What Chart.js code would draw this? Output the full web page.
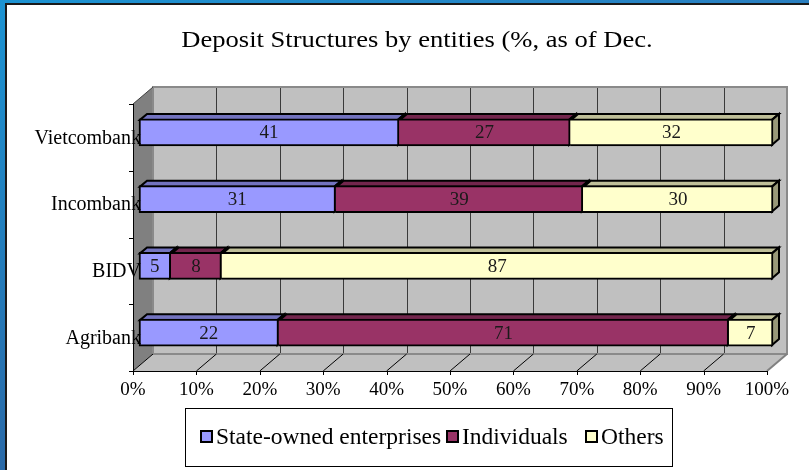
<!DOCTYPE html>
<html>
<head>
<meta charset="utf-8">
<script src="https://cdn.jsdelivr.net/npm/chart.js@4"></script>
<style>
  html, body { margin: 0; padding: 0; background: #ffffff; }
  #wrap { width: 809px; height: 470px; }
  canvas { display: block; }
</style>
</head>
<body>
<div id="wrap"><canvas id="c" width="809" height="470"></canvas></div>
<script>
// ---- data ----
const categories = ['Vietcombank', 'Incombank', 'BIDV', 'Agribank'];
const stateOwned = [41, 31, 5, 22];
const individuals = [27, 39, 8, 71];
const others = [32, 30, 87, 7];
const seriesNames = ['State-owned enterprises', 'Individuals', 'Others'];
const xTickValues = [0, 10, 20, 30, 40, 50, 60, 70, 80, 90, 100];
const xTickLabels = ['0%', '10%', '20%', '30%', '40%', '50%', '60%', '70%', '80%', '90%', '100%'];
const titleText = 'Deposit Structures by entities (%, as of Dec.';

// ---- style ----
const frontColors = ['#9999FF', '#993366', '#FFFFCC'];
const topColors = ['#7373BF', '#73264D', '#BFBF99'];
const sideColors = ['#5C5C99', '#5C1F3D', '#999979'];
const SERIF = '"Liberation Serif", "DejaVu Serif", "Times New Roman", serif';

const WALL_DX = 20, WALL_DY = -17;   // depth of the box
const BAR_DX = 6, BAR_DY = -5;       // bar front offset from front plane
const BAR_TX = 7, BAR_TY = -6;       // bar depth

const threeD = {
  id: 'threeD',
  beforeDraw(chart) {
    const ctx = chart.ctx;
    const xs = chart.scales.x, ys = chart.scales.y;
    const W = chart.width, H = chart.height;
    const L = xs.getPixelForValue(0), R = xs.getPixelForValue(100);
    const T = ys.top, B = ys.bottom;
    ctx.save();
    // frame
    const g = ctx.createLinearGradient(0, 0, 0, H);
    g.addColorStop(0, '#1c93d2');
    g.addColorStop(1, '#2a6aa8');
    ctx.fillStyle = g;
    ctx.fillRect(0, 0, W, H);
    const gt = ctx.createLinearGradient(0, 0, W, 0);
    gt.addColorStop(0, '#1c93d2');
    gt.addColorStop(1, '#2a7fc0');
    ctx.fillStyle = gt;
    ctx.fillRect(0, 0, W, 4);
    ctx.fillStyle = '#1a1a1a';
    ctx.fillRect(5, 3, W - 5, H - 3);
    ctx.fillStyle = '#ffffff';
    ctx.fillRect(7, 5, W - 7, H - 5);

    // title
    ctx.fillStyle = '#000';
    ctx.font = '23px ' + SERIF;
    ctx.textAlign = 'center';
    ctx.textBaseline = 'alphabetic';
    ctx.save();
    ctx.translate(417, 47);
    ctx.scale(1.155, 1);
    ctx.fillText(titleText, 0, 0);
    ctx.restore();

    // back wall
    ctx.fillStyle = '#C0C0C0';
    ctx.fillRect(L + WALL_DX, T + WALL_DY, R - L, B - T);
    // left wall
    ctx.fillStyle = '#808080';
    ctx.beginPath();
    ctx.moveTo(L, T); ctx.lineTo(L + WALL_DX, T + WALL_DY);
    ctx.lineTo(L + WALL_DX, B + WALL_DY); ctx.lineTo(L, B);
    ctx.closePath(); ctx.fill();
    // floor
    ctx.fillStyle = '#C0C0C0';
    ctx.beginPath();
    ctx.moveTo(L, B); ctx.lineTo(L + WALL_DX, B + WALL_DY);
    ctx.lineTo(R + WALL_DX, B + WALL_DY); ctx.lineTo(R, B);
    ctx.closePath(); ctx.fill();

    // back wall grid lines
    ctx.lineWidth = 1;
    ctx.strokeStyle = '#3a3a3a';
    xTickValues.forEach(v => {
      if (v === 0 || v === 100) return;
      const x = Math.round(xs.getPixelForValue(v) + WALL_DX) + 0.5;
      ctx.beginPath();
      ctx.moveTo(x, T + WALL_DY); ctx.lineTo(x, B + WALL_DY);
      ctx.stroke();
    });
    // back wall outline
    ctx.strokeStyle = '#8a8a8a';
    ctx.lineWidth = 2;
    ctx.strokeRect(L + WALL_DX, T + WALL_DY, R - L, B - T);
    // floor diagonals
    ctx.lineWidth = 1;
    ctx.strokeStyle = '#000';
    xTickValues.forEach(v => {
      if (v === 100) return;
      const x = xs.getPixelForValue(v);
      ctx.beginPath();
      ctx.moveTo(x, B); ctx.lineTo(x + WALL_DX, B + WALL_DY);
      ctx.stroke();
    });
    ctx.strokeStyle = '#808080';
    ctx.lineWidth = 2;
    ctx.beginPath();
    ctx.moveTo(R, B); ctx.lineTo(R + WALL_DX, B + WALL_DY);
    ctx.stroke();
    // left wall top edge
    ctx.strokeStyle = '#404040';
    ctx.lineWidth = 1;
    ctx.beginPath();
    ctx.moveTo(L, T); ctx.lineTo(L + WALL_DX, T + WALL_DY);
    ctx.stroke();
    // front axes
    ctx.strokeStyle = '#000';
    ctx.lineWidth = 1;
    ctx.beginPath();
    ctx.moveTo(Math.round(L) + 0.5, T); ctx.lineTo(Math.round(L) + 0.5, B + 0.5);
    ctx.lineTo(R, B + 0.5);
    ctx.stroke();
    // y ticks (category boundaries)
    for (let i = 0; i <= categories.length; i++) {
      const y = Math.round(T + (B - T) * i / categories.length) + 0.5;
      ctx.beginPath();
      ctx.moveTo(L - 4, y); ctx.lineTo(L, y);
      ctx.stroke();
    }
    // x ticks
    xTickValues.forEach(v => {
      const x = Math.round(xs.getPixelForValue(v)) + 0.5;
      ctx.beginPath();
      ctx.moveTo(x, B); ctx.lineTo(x, B + 4);
      ctx.stroke();
    });
    // x tick labels
    ctx.fillStyle = '#000';
    ctx.font = '19px ' + SERIF;
    ctx.textAlign = 'center';
    ctx.textBaseline = 'middle';
    xTickValues.forEach((v, i) => {
      ctx.fillText(xTickLabels[i], xs.getPixelForValue(v), B + 19);
    });
    ctx.restore();
  },
  beforeDatasetsDraw(chart) {
    const ctx = chart.ctx;
    ctx.save();
    ctx.translate(BAR_DX, BAR_DY);
    const n = chart.data.datasets.length;
    ctx.lineWidth = 2;
    ctx.lineJoin = 'miter';
    ctx.strokeStyle = '#000';
    for (let j = 0; j < categories.length; j++) {
      for (let d = 0; d < n; d++) {
        const el = chart.getDatasetMeta(d).data[j];
        const x1 = el.base, x2 = el.x;
        const yt = el.y - el.height / 2, yb = el.y + el.height / 2;
        if (Math.abs(x2 - x1) < 0.5) continue;
        // top face
        ctx.fillStyle = topColors[d];
        ctx.beginPath();
        ctx.moveTo(x1 + 1, yt + 1); ctx.lineTo(x1 + 1 + BAR_TX, yt + 1 + BAR_TY);
        ctx.lineTo(x2 - 1 + BAR_TX, yt + 1 + BAR_TY); ctx.lineTo(x2 - 1, yt + 1);
        ctx.closePath(); ctx.fill(); ctx.stroke();
        // side face
        ctx.fillStyle = sideColors[d];
        ctx.beginPath();
        ctx.moveTo(x2 - 1, yt + 1); ctx.lineTo(x2 - 1 + BAR_TX, yt + 1 + BAR_TY);
        ctx.lineTo(x2 - 1 + BAR_TX, yb - 1 + BAR_TY); ctx.lineTo(x2 - 1, yb - 1);
        ctx.closePath(); ctx.fill(); ctx.stroke();
      }
    }
  },
  afterDatasetsDraw(chart) {
    const ctx = chart.ctx;
    // value labels on the front faces (still translated)
    ctx.fillStyle = '#1a1a1a';
    ctx.font = '19px ' + SERIF;
    ctx.textAlign = 'center';
    ctx.textBaseline = 'middle';
    chart.data.datasets.forEach((ds, d) => {
      chart.getDatasetMeta(d).data.forEach((el, j) => {
        ctx.fillText(String(ds.data[j]), (el.base + el.x) / 2, el.y + 1);
      });
    });
    ctx.restore();
  },
  afterDraw(chart) {
    const ctx = chart.ctx;
    const xs = chart.scales.x, ys = chart.scales.y;
    ctx.save();
    // category labels
    ctx.fillStyle = '#000';
    ctx.font = '20px ' + SERIF;
    ctx.textAlign = 'right';
    ctx.textBaseline = 'middle';
    categories.forEach((c, i) => {
      ctx.fillText(c, xs.getPixelForValue(0) + 8, ys.getPixelForValue(i) + 1);
    });
    // legend
    ctx.fillStyle = '#fff';
    ctx.fillRect(185, 408, 487, 58);
    ctx.strokeStyle = '#000';
    ctx.lineWidth = 1;
    ctx.strokeRect(185.5, 408.5, 487, 58);
    const markX = [201, 447, 586];
    ctx.font = '23.5px ' + SERIF;
    ctx.textAlign = 'left';
    ctx.textBaseline = 'middle';
    seriesNames.forEach((name, i) => {
      ctx.fillStyle = frontColors[i];
      ctx.fillRect(markX[i], 431, 11, 11);
      ctx.lineWidth = 2;
      ctx.strokeStyle = '#000';
      ctx.strokeRect(markX[i], 431, 11, 11);
      ctx.fillStyle = '#000';
      ctx.fillText(name, markX[i] + 15, 438);
    });
    ctx.restore();
  }
};

const datasets = [stateOwned, individuals, others].map((vals, i) => ({
  label: seriesNames[i],
  data: vals,
  backgroundColor: frontColors[i],
  borderColor: '#000',
  borderWidth: 2,
  borderSkipped: i === 0 ? false : 'start',
  barThickness: 27,
  clip: false
}));

new Chart(document.getElementById('c'), {
  type: 'bar',
  data: { labels: categories, datasets },
  options: {
    indexAxis: 'y',
    responsive: false,
    animation: false,
    devicePixelRatio: 1,
    layout: { padding: { left: 133, right: 42, top: 104, bottom: 99 } },
    plugins: { legend: { display: false }, title: { display: false }, tooltip: { enabled: false } },
    scales: {
      x: { stacked: true, min: 0, max: 100, display: false },
      y: { stacked: true, display: false }
    }
  },
  plugins: [threeD]
});
</script>
</body>
</html>
